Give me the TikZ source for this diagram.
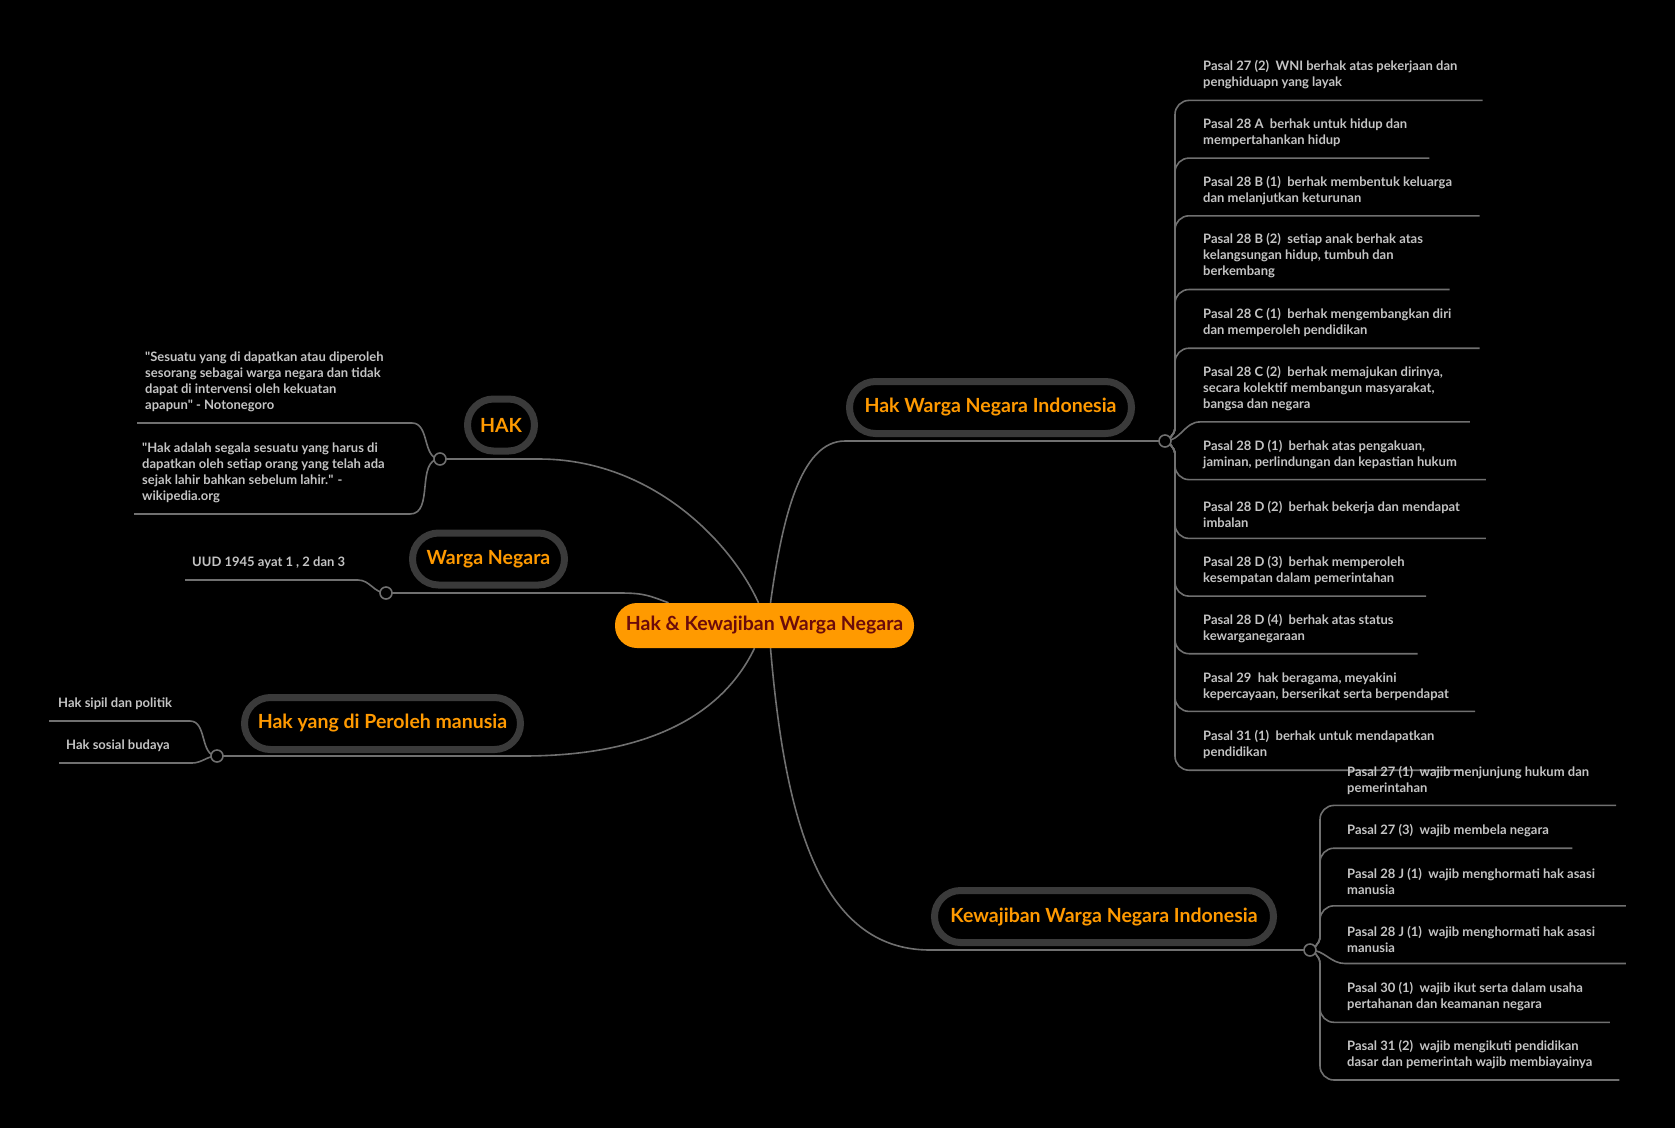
\documentclass[tikz,border=0pt]{standalone}
\usepackage{fontspec}
\setmainfont{Lato}
\usetikzlibrary{backgrounds}
\definecolor{mmorange}{HTML}{FF9A00}
\definecolor{mmred}{HTML}{6B0B0B}
\definecolor{mmframe}{HTML}{3A3A3A}
\definecolor{mmline}{HTML}{707070}
\definecolor{mmleaf}{HTML}{C4C4C4}

\begin{document}
\begin{tikzpicture}[x=1pt,y=-1pt,
	root/.style={rounded corners=22pt, fill=mmorange, text=mmred, font=\fontsize{19.5}{21}\selectfont\bfseries, minimum width=299pt, minimum height=45pt, inner sep=0pt},
	topic/.style={rounded corners=26pt, draw=mmframe, line width=7pt, fill=black, text=mmorange, font=\fontsize{19.5}{21}\selectfont\bfseries, minimum height=52pt, inner sep=0pt},
	leaf/.style={anchor=south west, inner sep=0pt, align=left, text=mmleaf, font=\fontsize{13}{16}\selectfont\bfseries},
	dot/.style={circle, draw=mmline, line width=1.6pt, fill=black, minimum size=12pt, inner sep=0pt},
	branch/.style={draw=mmline, line width=1.6pt},
	trunk/.style={branch, rounded corners=14pt}]
	\useasboundingbox (0,0) rectangle (1675,1128);
	% centre and main topics
	\node [root] (c) at (764.5,625.5) {Hak \& Kewajiban Warga Negara};
	\node [topic, minimum width=282pt] (t1) at (990.5,407.5) {Hak Warga Negara Indonesia};
	\node [topic, minimum width=339pt] (t2) at (1104,916.5) {Kewajiban Warga Negara Indonesia};
	\node [topic, minimum width=67pt] (t3) at (501,425) {HAK};
	\node [topic, minimum width=152pt] (t4) at (488.5,559) {Warga Negara};
	\node [topic, minimum width=276pt] (t5) at (382.5,723.5) {Hak yang di Peroleh manusia};
	\node [dot] (d1) at (1165,441) {};
	\node [dot] (d2) at (1310,950) {};
	\node [dot] (d3) at (440,459) {};
	\node [dot] (d4) at (386,593) {};
	\node [dot] (d5) at (217,756) {};
	% hak warga negara indonesia
	\node [leaf] (r1) at (1203,89.4) {Pasal 27 (2)~ WNI berhak atas pekerjaan dan\\penghiduapn yang layak};
	\node [leaf] (r2) at (1203,147.1) {Pasal 28 A~ berhak untuk hidup dan\\mempertahankan hidup};
	\node [leaf] (r3) at (1203,204.8) {Pasal 28 B (1)~ berhak membentuk keluarga\\dan melanjutkan keturunan};
	\node [leaf] (r4) at (1203,278.5) {Pasal 28 B (2)~ setiap anak berhak atas\\kelangsungan hidup, tumbuh dan\\berkembang};
	\node [leaf] (r5) at (1203,337.2) {Pasal 28 C (1)~ berhak mengembangkan diri\\dan memperoleh pendidikan};
	\node [leaf] (r6) at (1203,410.9) {Pasal 28 C (2)~ berhak memajukan dirinya,\\secara kolektif membangun masyarakat,\\bangsa dan negara};
	\node [leaf] (r7) at (1203,468.6) {Pasal 28 D (1)~ berhak atas pengakuan,\\jaminan, perlindungan dan kepastian hukum};
	\node [leaf] (r8) at (1203,527.4) {Pasal 28 D (2)~ berhak bekerja dan mendapat\\imbalan};
	\node [leaf] (r9) at (1203,585.1) {Pasal 28 D (3)~ berhak memperoleh\\kesempatan dalam pemerintahan};
	\node [leaf] (r10) at (1203,642.7) {Pasal 28 D (4)~ berhak atas status\\kewarganegaraan};
	\node [leaf] (r11) at (1203,700.4) {Pasal 29~ hak beragama, meyakini\\kepercayaan, berserikat serta berpendapat};
	\node [leaf] (r12) at (1203,759.2) {Pasal 31 (1)~ berhak untuk mendapatkan\\pendidikan};
	\coordinate (r1e) at (1482.7,100.4);
	\coordinate (r2e) at (1429.3,158.1);
	\coordinate (r3e) at (1479.5,215.8);
	\coordinate (r4e) at (1449.6,289.5);
	\coordinate (r5e) at (1479.5,348.2);
	\coordinate (r6e) at (1469.8,421.9);
	\coordinate (r7e) at (1485.9,479.6);
	\coordinate (r8e) at (1485.9,538.4);
	\coordinate (r9e) at (1426.0,596.1);
	\coordinate (r10e) at (1417.5,653.7);
	\coordinate (r11e) at (1475.2,711.4);
	\coordinate (r12e) at (1463.0,770.2);
	% kewajiban warga negara indonesia
	\node [leaf] (k1) at (1347,794.4) {Pasal 27 (1)~ wajib menjunjung hukum dan\\pemerintahan};
	\node [leaf] (k2) at (1347,837.2) {Pasal 27 (3)~ wajib membela negara};
	\node [leaf] (k3) at (1347,894.8) {Pasal 28 J (1)~ wajib menghormati hak asasi\\manusia};
	\node [leaf] (k4) at (1347,952.5) {Pasal 28 J (1)~ wajib menghormati hak asasi\\manusia};
	\node [leaf] (k5) at (1347,1011.3) {Pasal 30 (1)~ wajib ikut serta dalam usaha\\pertahanan dan keamanan negara};
	\node [leaf] (k6) at (1347,1069.0) {Pasal 31 (2)~ wajib mengikuti pendidikan\\dasar dan pemerintah wajib membiayainya};
	\coordinate (k1e) at (1616.2,805.4);
	\coordinate (k2e) at (1572.4,848.2);
	\coordinate (k3e) at (1625.8,905.8);
	\coordinate (k4e) at (1625.8,963.5);
	\coordinate (k5e) at (1609.8,1022.3);
	\coordinate (k6e) at (1619.4,1080.0);
	% left side
	\node [leaf] (h1) at (145,412) {\textquotedbl Sesuatu yang di dapatkan atau diperoleh\\sesorang sebagai warga negara dan tidak\\dapat di intervensi oleh kekuatan\\apapun\textquotedbl{} - Notonegoro};
	\node [leaf] (h2) at (142,503) {\textquotedbl Hak adalah segala sesuatu yang harus di\\dapatkan oleh setiap orang yang telah ada\\sejak lahir bahkan sebelum lahir.\textquotedbl{} -\\wikipedia.org};
	\node [leaf] (w1) at (192,569) {UUD 1945 ayat 1 , 2 dan 3};
	\node [leaf] (m1) at (58,710) {Hak sipil dan politik};
	\node [leaf] (m2) at (66,752) {Hak sosial budaya};
	\coordinate (h1e) at (137,423);
	\coordinate (h2e) at (134,514);
	\coordinate (w1e) at (185,580);
	\coordinate (m1e) at (49,721);
	\coordinate (m2e) at (59,763);

	\begin{scope}[on background layer]
		\fill [black] (0,0) rectangle (1675,1128);
		\draw [branch] ([xshift=6pt]c.north) .. controls (782,520) and (800,441) .. (845,441) -- (d1.center);
		\draw [branch] ([xshift=6pt]c.south) .. controls (785,820) and (820,950) .. (930,950) -- (d2.center);
		\draw [branch] ([xshift=-6pt]c.north) .. controls (730,540) and (650,459) .. (539,459) -- (d3.center);
		\draw [branch] ([xshift=-96pt]c.north) .. controls (650,596) and (645,593) .. (620,593) -- (d4.center);
		\draw [branch] ([xshift=-10pt]c.south) .. controls (720,720) and (640,756) .. (523,756) -- (d5.center);
		\draw [trunk] (d1.center) -- (1175,441) |- (r1e);
		\draw [trunk] (d1.center) -- (1175,441) |- (r2e);
		\draw [trunk] (d1.center) -- (1175,441) |- (r3e);
		\draw [trunk] (d1.center) -- (1175,441) |- (r4e);
		\draw [trunk] (d1.center) -- (1175,441) |- (r5e);
		\draw [branch] (d1.center) to [out=0, in=180] (1200,421.9) -- (r6e);
		\draw [trunk] (d1.center) -- (1175,441) |- (r7e);
		\draw [trunk] (d1.center) -- (1175,441) |- (r8e);
		\draw [trunk] (d1.center) -- (1175,441) |- (r9e);
		\draw [trunk] (d1.center) -- (1175,441) |- (r10e);
		\draw [trunk] (d1.center) -- (1175,441) |- (r11e);
		\draw [trunk] (d1.center) -- (1175,441) |- (r12e);
		\draw [trunk] (d2.center) -- (1320,950) |- (k1e);
		\draw [trunk] (d2.center) -- (1320,950) |- (k2e);
		\draw [trunk] (d2.center) -- (1320,950) |- (k3e);
		\draw [branch] (d2.center) to [out=0, in=180] (1345,963.5) -- (k4e);
		\draw [trunk] (d2.center) -- (1320,950) |- (k5e);
		\draw [trunk] (d2.center) -- (1320,950) |- (k6e);
		\draw [branch] (d3.center) to [out=180, in=0] (412,423) -- (h1e);
		\draw [branch] (d3.center) to [out=180, in=0] (410,514) -- (h2e);
		\draw [branch] (d4.center) to [out=180, in=0] (358,580) -- (w1e);
		\draw [branch] (d5.center) to [out=180, in=0] (190,721) -- (m1e);
		\draw [branch] (d5.center) to [out=180, in=0] (192,763) -- (m2e);
	\end{scope}
\end{tikzpicture}
\end{document}
